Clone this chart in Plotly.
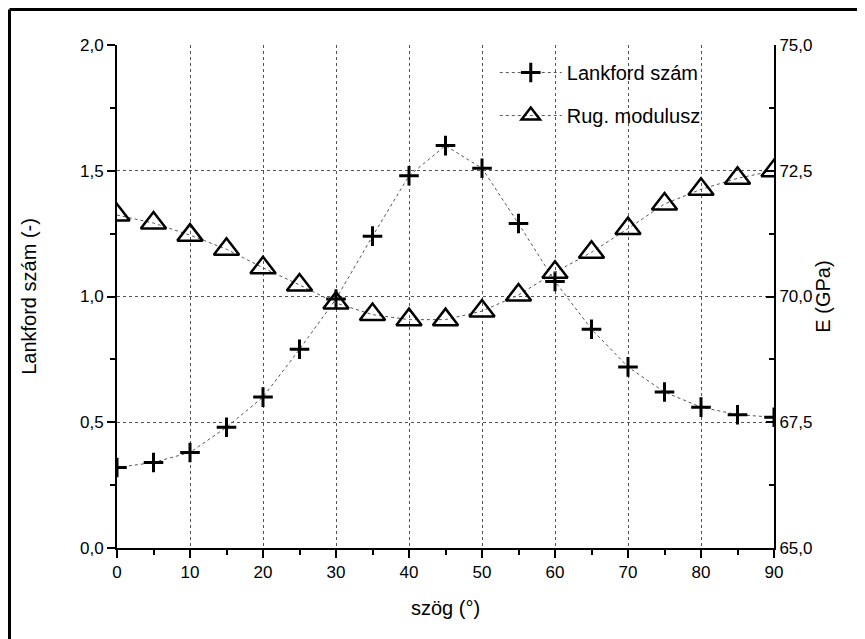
import plotly.graph_objects as go

angles = [0, 5, 10, 15, 20, 25, 30, 35, 40, 45, 50, 55, 60, 65, 70, 75, 80, 85, 90]
lankford = [0.32, 0.34, 0.38, 0.48, 0.60, 0.79, 0.99, 1.24, 1.48, 1.60, 1.51, 1.29, 1.06, 0.87, 0.72, 0.62, 0.56, 0.53, 0.52]
modulus = [71.62, 71.46, 71.22, 70.94, 70.57, 70.23, 69.87, 69.64, 69.54, 69.54, 69.71, 70.03, 70.48, 70.88, 71.35, 71.84, 72.13, 72.35, 72.50]
grid_y = [0.5, 1.0, 1.5]

FONT = "Liberation Sans, Arial, sans-serif"

# page body has an 8px margin, so figure coordinates are shifted by 8px
ML, MT, PW, PH = 109, 37, 657, 503

fig = go.Figure()
fig.add_trace(go.Scatter(
    x=angles, y=lankford, name="Lankford szám", mode="lines+markers",
    legendgroup="a",
    line=dict(color="#555555", width=1, dash="dot"),
    marker=dict(symbol="cross-thin", size=14, color="black",
                line=dict(color="black", width=3)),
))
fig.add_trace(go.Scatter(
    x=angles, y=modulus, name="Rug. modulusz", mode="lines+markers", yaxis="y2",
    legendgroup="b",
    line=dict(color="#555555", width=1, dash="dot"),
    marker=dict(symbol="triangle-up-open", size=22, color="black",
                line=dict(color="black", width=2.5)),
))

axis_common = dict(
    showline=True, linecolor="black", linewidth=2,
    tickfont=dict(family=FONT, size=17, color="black"),
    tickcolor="black", tickwidth=2, ticklen=8,
    zeroline=False, automargin=False,
)
title_font = dict(family=FONT, size=20, color="black")

fig.update_layout(
    width=865, height=639,
    paper_bgcolor="white", plot_bgcolor="white",
    separators=",.",
    margin=dict(l=ML, r=865 - ML - PW, t=MT, b=639 - MT - PH),
    font=dict(family=FONT, color="black"),
    showlegend=True,
    legend=dict(x=0.575, y=0.984, xanchor="left", yanchor="top",
                bgcolor="rgba(0,0,0,0)", font=dict(family=FONT, size=20, color="black"),
                tracegroupgap=14, itemwidth=62),
    xaxis=dict(range=[0, 90], tickmode="linear", tick0=0, dtick=10,
               ticks="outside",
               minor=dict(dtick=5, ticks="outside", ticklen=5, tickcolor="black", tickwidth=2, showgrid=False),
               showgrid=True, gridcolor="#555555", griddash="dot", gridwidth=1,
               title=dict(text="szög (°)", font=title_font, standoff=20),
               **axis_common),
    yaxis=dict(range=[0, 2], tickmode="linear", tick0=0, dtick=0.5, tickformat=".1f",
               ticks="outside",
               minor=dict(dtick=0.25, ticks="outside", ticklen=5, tickcolor="black", tickwidth=2, showgrid=False),
               showgrid=False,
               title=dict(text="Lankford szám (-)", font=title_font, standoff=38),
               **axis_common),
    yaxis3=dict(range=[0, 2], overlaying="y", tickmode="array", tickvals=grid_y,
                showticklabels=False, ticks="", showline=False, zeroline=False,
                showgrid=True, gridcolor="#555555", griddash="dot", gridwidth=1),
    yaxis2=dict(range=[65, 75], tickmode="linear", tick0=65, dtick=2.5, tickformat=".1f",
                overlaying="y", side="right", ticks="inside", showgrid=False,
                minor=dict(dtick=1.25, ticks="inside", ticklen=5, tickcolor="black", tickwidth=2),
                title=dict(text="E (GPa)", font=title_font, standoff=0),
                **axis_common),
)
# attach an invisible helper trace so the grid axis is drawn
fig.add_trace(go.Scatter(x=[None], y=[None], yaxis="y3", showlegend=False, hoverinfo="skip"))

# partial frame of the original image (top and left edges)
fx = (1.5 - ML) / PW
fy = (MT + PH - 1.5) / PH
fig.add_shape(type="line", xref="paper", yref="paper",
              x0=fx, x1=(865 - ML) / PW, y0=fy, y1=fy,
              line=dict(color="black", width=3))
fig.add_shape(type="line", xref="paper", yref="paper",
              x0=fx, x1=fx, y0=fy, y1=-(639 - MT - PH) / PH,
              line=dict(color="black", width=3))

fig.write_html("out.html")
